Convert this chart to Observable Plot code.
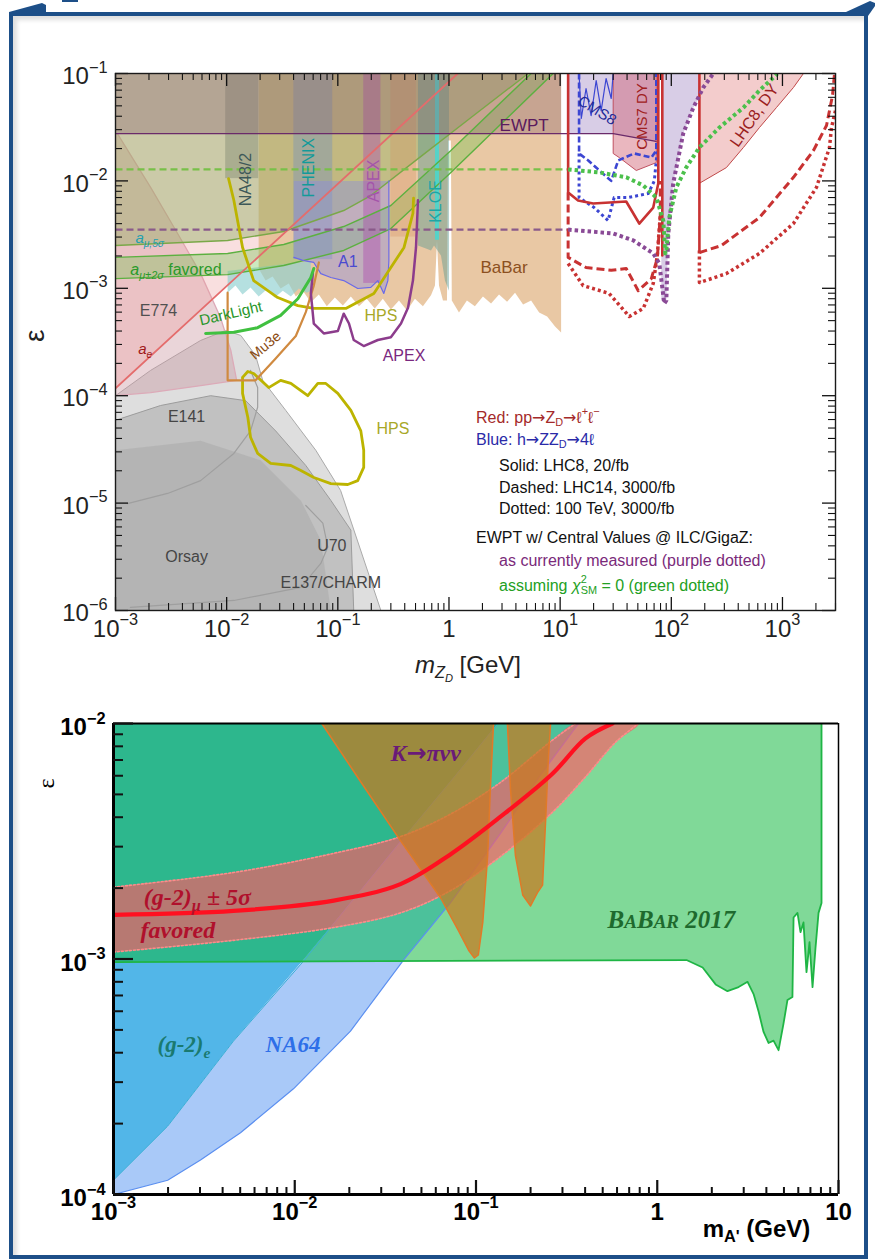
<!DOCTYPE html>
<html><head><meta charset="utf-8">
<script src="https://cdn.jsdelivr.net/npm/d3@7"></script>
<script src="https://cdn.jsdelivr.net/npm/@observablehq/plot@0.6"></script>
<style>
html,body{margin:0;padding:0;background:#fff;}
#page{position:relative;width:875px;height:1260px;overflow:hidden;background:#fff;}
#frame{position:absolute;left:9px;top:12px;width:851px;height:1239px;border:4px solid #1d4f88;box-shadow:inset 4px 4px 4px rgba(0,0,0,0.13);}
#page svg.pl{position:absolute;left:0;}
</style></head><body>
<div id="page">
<div id="frame"></div>
<svg width="875" height="1260" style="position:absolute;left:0;top:0">
<polygon points="9,16 9,12 42,3 46,5 46,13" fill="#1d4f88"/>
<polygon points="846,12 870,1 875,3 875,6 868,16" fill="#1d4f88"/>
<rect x="62" y="0" width="16" height="2" fill="#1d4f88"/>
</svg>
</div>
<script>
// ================= TOP PANEL DATA  [mass (GeV), epsilon] =================
const topXMajor = [1e-3,1e-2,1e-1,1,10,100,1000];
const topXLabels = ["10^{−3}","10^{−2}","10^{−1}","1","10^{1}","10^{2}","10^{3}"];
const topYMajor = [1e-6,1e-5,1e-4,1e-3,1e-2,1e-1];
const topYLabels = ["10^{−6}","10^{−5}","10^{−4}","10^{−3}","10^{−2}","10^{−1}"];

const grayOuter = [[1e-3,1e-4],[2.07e-3,1.72e-4],[5.83e-3,3.27e-4],[9.8e-3,4.05e-4],[1.34e-2,3.64e-4],[1.82e-2,2.37e-4],[2.11e-2,1.39e-4],[3.4e-2,7.3e-5],[6.34e-2,3.1e-5],[0.106,1.31e-5],[0.244,1e-6],[1e-3,1e-6]];
const grayMid = [[1e-3,5.9e-5],[2.54e-3,8.1e-5],[7.18e-3,1.0e-4],[1.48e-2,9.0e-5],[2.76e-2,4.7e-5],[5.15e-2,2.24e-5],[8.65e-2,1.06e-5],[0.131,5.6e-6],[0.139,1e-6],[1e-3,1e-6]];
const grayInner = [[1e-3,3.1e-5],[5.83e-3,3.8e-5],[2.02e-2,2.5e-5],[4.65e-2,1.06e-5],[7.03e-2,4.5e-6],[8.65e-2,1e-6],[1e-3,1e-6]];
const e141Edge = [[1.28e-3,9.9e-6],[2.94e-3,1.23e-5],[5.83e-3,1.62e-5],[1.16e-2,2.9e-5],[1.64e-2,4.7e-5],[1.9e-2,7.8e-5],[1.9e-2,1.19e-4],[1.64e-2,1.72e-4]];
const u70Edge = [[1.36e-3,1.07e-6],[1.16e-2,1.24e-6],[4.65e-2,1.64e-6],[7.03e-2,2.74e-6],[8.13e-2,3.9e-6],[7.33e-2,6.5e-6],[5.15e-2,9.5e-6]];
const e774 = [[1e-3,2.76e-2],[1.04e-3,2.76e-2],[2.07e-3,8.7e-3],[3.62e-3,3.24e-3],[5.83e-3,1.37e-3],[8.8e-3,5.35e-4],[1.09e-2,2.64e-4],[1.23e-2,1.39e-4],[5.83e-3,1.24e-4],[2.07e-3,1.07e-4],[1e-3,1e-4]];
const aeEdge = [[1e-3,1.17e-4],[1.2,0.1]];
const amu5 = [[1e-3,2.5e-3],[1.02e-2,2.79e-3],[3.26e-2,3.38e-3],[0.113,5.3e-3],[0.198,7.31e-3],[0.56,1.69e-2],[1.58,3.89e-2],[5.15,0.1]];
const amuUp = [[1e-3,1.94e-3],[1.02e-2,2.11e-3],[3.26e-2,2.56e-3],[0.113,3.76e-3],[0.30,5.9e-3],[1.04,1.92e-2],[5.48,0.1]];
const amuLo = [[1e-3,1.23e-3],[1.02e-2,1.34e-3],[3.26e-2,1.63e-3],[0.113,2.25e-3],[0.30,3.6e-3],[1.04,1.2e-2],[8.65,0.1]];
const babarLo = [[1.94e-2,1.53e-3],[2.24e-2,1.18e-3],[2.59e-2,1.29e-3],[3.06e-2,9.96e-4],[3.62e-2,1.11e-3],[4.19e-2,8.4e-4],[4.84e-2,9.5e-4],[5.72e-2,7.4e-4],[6.75e-2,8.75e-4],[7.96e-2,6.8e-4],[9.4e-2,8.2e-4],[0.111,6.9e-4],[0.131,8.4e-4],[0.155,6.8e-4],[0.182,8.0e-4],[0.215,6.5e-4],[0.254,8.0e-4],[0.30,6.35e-4],[0.355,7.7e-4],[0.419,6.2e-4],[0.494,8.0e-4],[0.583,6.8e-4],[0.689,8.6e-4],[0.748,1.06e-3],[0.78,2.79e-3],[0.813,1.06e-3],[0.883,7.7e-4],[0.96,7.7e-4],[0.98,2.38e-2],[1.04,2.38e-2],[1.06,7.7e-4],[1.23,5.96e-4],[1.45,7.7e-4],[1.71,6.8e-4],[2.02,8.4e-4],[2.39,7.2e-4],[2.82,8.75e-4],[3.33,7.5e-4],[3.93,9.1e-4],[4.64,7.06e-4],[5.48,7.7e-4],[6.47,5.96e-4],[7.64,5.46e-4],[9.0,4.41e-4],[10.2,3.87e-4]];
const kloeLow = [[1.02e-2,9.1e-4],[1.2e-2,1.06e-3],[1.39e-2,8.75e-4],[1.64e-2,1.02e-3],[1.94e-2,8.4e-4],[2.29e-2,9.75e-4],[2.7e-2,8.2e-4],[3.2e-2,9.5e-4],[3.78e-2,8.4e-4],[4.46e-2,9.96e-4],[5.26e-2,9.1e-4],[5.72e-2,9.5e-4],[5.72e-2,1.8e-3],[1.02e-2,1.45e-3]];
const na48Col = [[9.8e-3,1.94e-2,1.05e-2]];
const phenixCol = [[4.02e-2,9.0e-2,1.85e-3]];
const apexCol = [[0.171,0.244,1.11e-3]];
const orangeCol = [[0.30,0.51,3.0e-3]];
const a1Lo = [[4.02e-2,1.94e-3],[4.94e-2,1.81e-3],[6.08e-2,1.74e-3],[7.03e-2,1.37e-3],[8.65e-2,1.26e-3],[0.113,1.18e-3],[0.151,9.96e-4],[0.198,1.02e-3],[0.229,1.18e-3],[0.259,8.95e-4],[0.282,1.18e-3],[0.288,1.81e-3],[0.288,1.0e-2]];
const kloeLo = [[0.526,2.5e-3],[0.621,2.35e-3],[0.689,2.25e-3],[0.733,2.5e-3],[0.847,2.02e-3],[0.92,1.18e-3],[1.0,9.5e-4]];
const kloeOmega = [0.78];
const ewptRegion = [[1e-3,2.76e-2],[10.2,2.76e-2],[10.2,0.1],[1e-3,0.1]];
const ewptLine = [[1e-3,2.76e-2],[30,2.76e-2],[73,2.33e-2]];
const cms8 = [[11.8,0.1],[11.8,2.76e-2],[30,2.76e-2],[73,2.33e-2],[73,0.1]];
const cms7 = [[30,0.1],[30,1.8e-2],[34,1.65e-2],[48.4,1.25e-2],[73.3,1.48e-2],[73.3,0.1]];
const zLav = [[81.3,0.1],[81.3,7.7e-4],[90.2,7.7e-4],[94,3.24e-3],[104,9.5e-3],[128,2.76e-2],[158,4.82e-2],[179,6e-2],[179,0.1]];
const lhc8dy = [[179,0.1],[179,9.5e-3],[313,1.33e-2],[446,2.05e-2],[621,3.14e-2],[883,4.82e-2],[1256,7.41e-2],[1545,0.1]];

const redSolidL = [[11.8,0.1],[11.8,7.8e-3],[14.5,6.57e-3],[19.8,6.16e-3],[39.3,6.43e-3],[51.5,4.01e-3],[68.8,5.65e-3],[76.4,9.5e-3],[76.4,0.1]];
const redSolidZ = [[83,0.1],[83,2.02e-3]];
const redSolidR = [[179,0.1],[179,2.25e-3]];
const redDashL = [[11.8,7.8e-3],[11.8,1.94e-3],[17.1,1.56e-3],[28.8,1.47e-3],[39.3,1.53e-3],[50.4,9.5e-4],[66.1,1.23e-3],[74.8,1.9e-3],[79.6,4.76e-3],[79.6,1e-2]];
const redDotL = [[11.8,1.7e-3],[16.1,1.06e-3],[27.6,8.95e-4],[41.9,5.46e-4],[56,6.5e-4],[68.8,1.11e-3],[74.8,2.02e-3],[79.6,4.76e-3]];
const redDashR = [[179,2.15e-3],[282,2.5e-3],[621,4.56e-3],[1256,1.08e-2],[1901,1.92e-2],[2490,3.28e-2],[2820,6.24e-2],[2940,0.1]];
const redDotR = [[179,2.25e-3],[179,1.13e-3],[313,1.37e-3],[621,2.11e-3],[1256,4.01e-3],[2023,8.7e-3],[2650,2.05e-2],[2760,3.14e-2],[3000,4.5e-2]];
const blueSolid = [[14.8,0.1],[15.5,3.81e-2],[17.1,7.25e-2],[19,4.06e-2],[21.1,8.6e-2],[23.4,4.52e-2],[25.9,8.98e-2],[28.8,5.85e-2],[30,0.1]];
const blueDash = [[14.8,0.1],[14.8,1.8e-2],[17.9,1.55e-2],[28.8,1.0e-2],[33.3,1.55e-2],[46.4,1.8e-2],[66.1,1.65e-2],[73.3,1.92e-2],[73.3,0.1]];
const blueDot = [[14.8,1.8e-2],[14.8,7.0e-3],[20.2,5.65e-3],[27,4.28e-3],[30.6,7.0e-3],[41,7.0e-3],[62.1,7.63e-3],[70.3,1e-2],[74.8,1.92e-2]];
const purpleH = [[1e-3,3.52e-3],[11.8,3.52e-3]];
const purpleDot = [[11.8,3.52e-3],[30,3.24e-3],[45.5,2.79e-3],[68.8,2.11e-3],[78,1.7e-3],[86.5,7.2e-4],[90.2,7.7e-4],[94,3.24e-3],[104,9.5e-3],[128,2.76e-2],[158,4.82e-2],[194,7.41e-2],[239,0.1]];
const greenH = [[1e-3,1.28e-2],[11.8,1.28e-2]];
const greenDot = [[11.8,1.28e-2],[22.4,1.2e-2],[39.3,1.08e-2],[56,9.06e-3],[73.3,7.0e-3],[84.7,4.28e-3],[88.3,2.11e-3],[90.2,2.25e-3],[95.9,4.56e-3],[111,8.7e-3],[136,1.33e-2],[179,2.05e-2],[271,3.14e-2],[446,4.82e-2],[621,6.95e-2],[830,9.18e-2],[902,0.1]];
const hps1 = [[1.04e-2,1.05e-2],[1.16e-2,6.6e-3],[1.39e-2,2.4e-3],[1.75e-2,1.18e-3],[2.88e-2,8.2e-4],[4.37e-2,6.9e-4],[6.08e-2,6.5e-4],[0.118,6.5e-4],[0.211,8.95e-4],[0.30,1.56e-3],[0.394,2.4e-3],[0.474,5.0e-3],[0.48,6.9e-3]];
const hps2 = [[1.39e-2,1.48e-4],[1.55e-2,1.68e-4],[1.75e-2,1.61e-4],[2.39e-2,1.19e-4],[3.06e-2,1.39e-4],[3.78e-2,1.3e-4],[5.37e-2,1.0e-4],[6.61e-2,1.3e-4],[7.8e-2,1.3e-4],[0.1,1.05e-4],[0.131,7.3e-5],[0.161,4.7e-5],[0.171,3.1e-5],[0.171,2.15e-5],[0.151,1.62e-5],[0.123,1.49e-5],[8.65e-2,1.52e-5],[6.08e-2,1.73e-5],[4.65e-2,2.01e-5],[3.78e-2,2.24e-5],[2.49e-2,2.34e-5],[1.9e-2,2.9e-5],[1.64e-2,4.1e-5],[1.55e-2,6.3e-5],[1.39e-2,1.05e-4],[1.39e-2,1.48e-4]];
const mu3e = [[1.02e-2,9.1e-4],[1.02e-2,1.39e-4],[1.82e-2,1.39e-4],[2.76e-2,2.22e-4],[4.19e-2,3.6e-4],[5.15e-2,6.0e-4],[6.08e-2,1.06e-3],[6.75e-2,1.74e-3]];
const apexLine = [[5.96e-2,1.37e-3],[5.72e-2,8.95e-4],[6.08e-2,4.7e-4],[7.48e-2,3.8e-4],[0.1,4.0e-4],[0.113,5.8e-4],[0.126,4.7e-4],[0.139,3.3e-4],[0.171,2.9e-4],[0.229,3.3e-4],[0.30,3.5e-4],[0.37,4.7e-4],[0.428,6.6e-4],[0.474,1.18e-3],[0.505,2.4e-3],[0.526,6.6e-3]];
const darkLight = [[6.47e-3,3.8e-4],[1.16e-2,3.9e-4],[1.9e-2,4.3e-4],[3.06e-2,5.6e-4],[4.37e-2,8.0e-4],[5.72e-2,1.26e-3],[6.08e-2,1.53e-3]];

const topLabels = [
 {t:"NA48/2", x:1.48e-2, y:1.03e-2, c:"#3d5858", s:16, r:-90},
 {t:"PHENIX", x:5.48e-2, y:1.33e-2, c:"#139a9a", s:16, r:-90},
 {t:"APEX", x:0.211, y:1.0e-2, c:"#a454aa", s:16, r:-90},
 {t:"KLOE", x:0.763, y:6.43e-3, c:"#1fa5a5", s:16, r:-90},
 {t:"EWPT", x:4.74, y:3.28e-2, c:"#5a1a5e", s:17, r:0},
 {t:"CMS7 DY", x:54.8, y:3.98e-2, c:"#a02020", s:15, r:-90},
 {t:"CMS8", x:21.5, y:4.52e-2, c:"#1e2a9a", s:15, r:32},
 {t:"LHC8, DY", x:560, y:4.06e-2, c:"#9a2020", s:16, r:-55},
 {t:"DarkLight", x:1.09e-2, y:5.82e-4, c:"#28962a", s:15, r:-13},
 {t:"Mu3e", x:2.24e-2, y:2.93e-4, c:"#8a4a10", s:14, r:-40},
 {t:"E774", x:2.44e-3, y:6.21e-4, c:"#505050", s:16, r:0},
 {t:"A1", x:0.123, y:1.78e-3, c:"#4a4ad0", s:16, r:0},
 {t:"HPS", x:0.244, y:5.58e-4, c:"#a8a828", s:16, r:0},
 {t:"BaBar", x:3.13, y:1.56e-3, c:"#8c5020", s:17, r:0},
 {t:"APEX", x:0.394, y:2.37e-4, c:"#7a2880", s:16, r:0},
 {t:"HPS", x:0.313, y:4.95e-5, c:"#a8a828", s:16, r:0},
 {t:"E141", x:4.36e-3, y:6.4e-5, c:"#454545", s:16, r:0},
 {t:"Orsay", x:4.36e-3, y:3.18e-6, c:"#454545", s:16, r:0},
 {t:"U70", x:8.83e-2, y:4.03e-6, c:"#454545", s:16, r:0},
 {t:"E137/CHARM", x:8.65e-2, y:1.82e-6, c:"#454545", s:16, r:0}
];
const topStartLabels = [
 {t:"*{a_{μ,5σ}}", x:1.51e-3, y:2.91e-3, c:"#1fa0b0", s:15},
 {t:"*{a_{μ±2σ}} favored", x:1.36e-3, y:1.47e-3, c:"#2a9a2a", s:16},
 {t:"*{a_{e}}", x:1.6e-3, y:2.69e-4, c:"#a01818", s:15}
];
const legendLines = [
 {t:"Red: pp#{→}Z_{D}#{→}ℓ^{+}ℓ^{−}", x:1.75, y:6.27e-5, c:"#a42a2a"},
 {t:"Blue: h#{→}ZZ_{D}#{→}4ℓ", x:1.75, y:3.91e-5, c:"#2a2aa8"},
 {t:"Solid: LHC8, 20/fb", x:2.82, y:2.24e-5, c:"#111"},
 {t:"Dashed: LHC14, 3000/fb", x:2.82, y:1.40e-5, c:"#111"},
 {t:"Dotted: 100 TeV, 3000/fb", x:2.82, y:8.9e-6, c:"#111"},
 {t:"EWPT w/ Central Values @ ILC/GigaZ:", x:1.75, y:4.78e-6, c:"#111"},
 {t:"as currently measured (purple dotted)", x:2.82, y:2.92e-6, c:"#7a2a7a"},
 {t:"assuming *{χ}^{2}|_{SM} = 0 (green dotted)", x:2.82, y:1.71e-6, c:"#23a023"}
];

// ================= BOTTOM PANEL DATA =================
const botXMajor = [1e-3,1e-2,1e-1,1,10];
const botXLabels = ["10^{−3}","10^{−2}","10^{−1}","1","10"];
const botYMajor = [1e-4,1e-3,1e-2];
const botYLabels = ["10^{−4}","10^{−3}","10^{−2}"];
const babar17 = [[1e-3,9.7e-4],[1.45,9.9e-4],[1.78,9.2e-4],[2.10,7.8e-4],[2.44,7.3e-4],[2.81,7.6e-4],[3.15,8.0e-4],[3.40,7.1e-4],[3.62,6.0e-4],[3.86,4.9e-4],[4.11,4.4e-4],[4.38,4.5e-4],[4.67,4.1e-4],[4.97,5.3e-4],[5.23,6.7e-4],[5.57,6.9e-4],[5.65,1.5e-3],[5.94,1.57e-3],[6.17,1.3e-3],[6.41,1.43e-3],[6.66,8.8e-4],[6.92,1.18e-3],[7.19,7.6e-4],[7.47,1.12e-3],[7.76,1.57e-3],[8.06,1.73e-3],[8.06,1e-2]];
const geLine = [[1e-3,1.15e-4],[1.99e-3,1.95e-4],[4.59e-3,4.48e-4],[1.08e-2,9.5e-4],[2.03e-2,1.73e-3],[3.83e-2,3.15e-3],[7.24e-2,5.67e-3],[0.132,1e-2]];
const na64Line = [[1e-3,1e-4],[1.99e-3,1.15e-4],[3.02e-3,1.4e-4],[5.02e-3,1.83e-4],[9.84e-3,2.81e-4],[2.03e-2,4.94e-4],[3.98e-2,9.9e-4],[7.22e-2,1.73e-3],[0.136,3.4e-3],[0.227,6.05e-3],[0.368,1e-2]];
const geAbove = [[1e-3,1e-2],[0.132,1e-2],[7.24e-2,5.67e-3],[3.83e-2,3.15e-3],[2.03e-2,1.73e-3],[1.09e-2,9.7e-4],[1e-3,9.7e-4]];
const geBelow = [[1e-3,9.7e-4],[1.09e-2,9.7e-4],[4.59e-3,4.48e-4],[1.99e-3,1.95e-4],[1e-3,1.15e-4]];
const naAbove = [[0.132,1e-2],[0.368,1e-2],[0.227,6.05e-3],[0.136,3.4e-3],[7.22e-2,1.73e-3],[3.9e-2,9.7e-4],[1.09e-2,9.7e-4],[2.03e-2,1.73e-3],[3.83e-2,3.15e-3],[7.24e-2,5.67e-3]];
const naBelow = [[1e-3,1e-4],[1.99e-3,1.15e-4],[3.02e-3,1.4e-4],[5.02e-3,1.83e-4],[9.84e-3,2.81e-4],[2.03e-2,4.94e-4],[3.9e-2,9.7e-4],[1.09e-2,9.7e-4],[4.59e-3,4.48e-4],[1.99e-3,1.95e-4],[1e-3,1.15e-4]];
const kpi1 = [[1.41e-2,1e-2],[2.31e-2,5.66e-3],[3.83e-2,3.18e-3],[6.37e-2,1.82e-3],[8.0e-2,1.32e-3],[9.1e-2,1.09e-3],[9.8e-2,1.01e-3],[0.103,1.04e-3],[0.109,1.43e-3],[0.116,2.75e-3],[0.120,5.25e-3],[0.125,1e-2]];
const kpi2 = [[0.149,1e-2],[0.155,5.25e-3],[0.165,2.75e-3],[0.181,1.87e-3],[0.20,1.68e-3],[0.218,1.91e-3],[0.233,2.06e-3],[0.242,3.82e-3],[0.251,7.21e-3],[0.258,1e-2]];
const bandUpper = [[1e-3,2.02e-3],[4.59e-3,2.33e-3],[1.64e-2,2.81e-3],[3.83e-2,3.31e-3],[7.22e-2,4.12e-3],[0.136,5.61e-3],[0.264,8.5e-3],[0.354,1e-2]];
const bandLower = [[1e-3,1.07e-3],[4.59e-3,1.2e-3],[1.64e-2,1.36e-3],[3.83e-2,1.57e-3],[7.22e-2,1.95e-3],[0.136,2.72e-3],[0.264,4.2e-3],[0.402,5.94e-3],[0.589,8.33e-3],[0.789,1e-2]];
const bandCenter = [[1e-3,1.54e-3],[4.59e-3,1.6e-3],[1.64e-2,1.77e-3],[3.83e-2,2.08e-3],[7.22e-2,2.78e-3],[0.136,4.01e-3],[0.264,6.12e-3],[0.402,8.65e-3],[0.566,1e-2]];
const botLabels = [
 {t:"K#{→}πνν", x:3.37e-2, y:7.5e-3, c:"#6a1a78", s:24},
 {t:"(g-2)_{μ} ± 5σ", x:1.47e-3, y:1.82e-3, c:"#b0102c", s:24},
 {t:"favored", x:1.41e-3, y:1.32e-3, c:"#b0102c", s:24},
 {t:"B~{A}B~{AR} 2017", x:0.532, y:1.46e-3, c:"#1e6a2e", s:25},
 {t:"(g-2)_{e}", x:1.75e-3, y:4.31e-4, c:"#1a7a70", s:23},
 {t:"NA64", x:6.9e-3, y:4.31e-4, c:"#2e6fe8", s:23}
];

// ================= helpers =================
const SANS = "'Liberation Sans', Arial, Helvetica, sans-serif";
const SERIF = "'Liberation Serif', 'Times New Roman', Times, serif";
const minorsOf = (decades, last) => decades.flatMap(d => [2,3,4,5,6,7,8,9].map(k => k * d)).filter(v => v <= last * 1.0001);
const P = (data, o) => Plot.line(data, {x: d => d[0], y: d => d[1], clip: true, ...o});
const D = (data, color, w, dash) => P(data, {stroke: color, strokeWidth: w, strokeDasharray: dash, strokeLinecap: "butt"});
const region = (data, fill, fo, stroke = "none", sw = 1) => P(data, {fill, fillOpacity: fo, stroke, strokeWidth: sw});
const col = (data, fill, fo) => Plot.rect(data, {x1: d => d[0], x2: d => d[1], y1: d => d[2], y2: 0.1, fill, fillOpacity: fo, clip: true});
const ticksX = (vals, len, H, side, sw) => Plot.tickX(vals, {x: d => d, stroke: "#111", strokeWidth: sw, ...(side === "bottom" ? {insetTop: H - len} : {insetBottom: H - len})});
const ticksY = (vals, len, W, side, sw) => Plot.tickY(vals, {y: d => d, stroke: "#111", strokeWidth: sw, ...(side === "left" ? {insetRight: W - len} : {insetLeft: W - len})});

// ================= TOP PLOT =================
const TW = 875 - 115 - 40, TH = 680 - 73 - 70;
const topXMinor = minorsOf([1e-3,1e-2,1e-1,1,10,100,1000], 3e3);
const topYMinor = minorsOf([1e-6,1e-5,1e-4,1e-3,1e-2], 0.1);
const topPlot = Plot.plot({
  width: 875, height: 680, marginLeft: 115, marginRight: 40, marginTop: 73, marginBottom: 70,
  x: {type: "log", domain: [1e-3, 3e3], axis: null},
  y: {type: "log", domain: [1e-6, 1e-1], axis: null},
  color: {type: "identity"},
  style: {fontFamily: SANS, background: "transparent", overflow: "visible"},
  marks: [
    region(grayOuter, "#cdcdcd", 0.65, "#aaaaaa", 1),
    region(grayMid, "#a9a9a9", 0.55, "#9c9c9c", 1),
    region(grayInner, "#999999", 0.3),
    P(e141Edge, {stroke: "#9f9f9f", strokeWidth: 1.2}),
    P(u70Edge, {stroke: "#9f9f9f", strokeWidth: 1.2}),
    region(e774, "#c9909a", 0.38, "#dcaab8", 1.3),
    region([...aeEdge, [1e-3, 0.1]], "#eb9a9a", 0.32),
    region([...babarLo, [10.2, 0.1], [1.94e-2, 0.1]], "#e2b686", 0.75),
    region(kloeLow, "#8ed0d0", 0.65),
    region([...amu5, [1e-3, 0.1]], "#8cad5e", 0.42),
    region([...amuUp, ...amuLo.slice().reverse()], "#6ec24a", 0.35),
    col(na48Col, "#5f6a58", 0.3),
    col(phenixCol, "#7d94b5", 0.45),
    region([...a1Lo, [4.02e-2, 1.0e-2]], "#8a8ae0", 0.42),
    col(apexCol, "#b050b0", 0.45),
    col(orangeCol, "#d89060", 0.3),
    region([...kloeLo, [1.0, 0.1], [0.526, 0.1]], "#5a9a90", 0.45),
    Plot.ruleX(kloeOmega, {x: d => d, y1: 2.8e-3, y2: 0.1, stroke: "#48d8d0", strokeWidth: 4, strokeOpacity: 0.85, clip: true}),
    region(ewptRegion, "#8a6070", 0.35),
    region(cms8, "#a890c8", 0.45),
    region(cms7, "#d06070", 0.45, "#c05060", 1),
    region(zLav, "#a890c8", 0.45),
    region(lhc8dy, "#e07878", 0.38, "#c04848", 1),
    // lines
    P(amu5, {stroke: "#7aa848", strokeWidth: 1.4}),
    P(amuUp, {stroke: "#5cb040", strokeWidth: 1.4}),
    P(amuLo, {stroke: "#5cb040", strokeWidth: 1.4}),
    P(aeEdge, {stroke: "#e46c6c", strokeWidth: 1.8}),
    P(a1Lo, {stroke: "#6a6ae8", strokeWidth: 1.2}),
    P(ewptLine, {stroke: "#6a2a6a", strokeWidth: 1.3}),
    D(greenH, "#78c048", 2.2, "7,4"),
    D(purpleH, "#8a5a8a", 2.2, "7,4"),
    P(hps1, {stroke: "#bcb400", strokeWidth: 2.8}),
    P(hps2, {stroke: "#bcb400", strokeWidth: 2.8}),
    P(mu3e, {stroke: "#d08a40", strokeWidth: 2.2}),
    P(apexLine, {stroke: "#8c3c8c", strokeWidth: 2.5}),
    P(darkLight, {stroke: "#40c040", strokeWidth: 3}),
    P(blueSolid, {stroke: "#3c46d2", strokeWidth: 1.2}),
    D(blueDash, "#3c46d2", 2.6, "6,3"),
    D(blueDot, "#3c46d2", 3, "3,3"),
    P(redSolidL, {stroke: "#c83232", strokeWidth: 2.6}),
    P(redSolidZ, {stroke: "#c83232", strokeWidth: 2.6}),
    P(redSolidR, {stroke: "#c83232", strokeWidth: 2.6}),
    D(redDashL, "#c83232", 3, "8,4"),
    D(redDotL, "#c83232", 3.5, "3,3"),
    D(redDashR, "#c83232", 3, "8,4"),
    D(redDotR, "#c83232", 3.5, "3,3"),
    D(purpleDot, "#8a4a96", 4, "3.5,3"),
    D(greenDot, "#4cc04c", 4, "3.5,3"),
    // labels
    Plot.text(topLabels, {x: d => d.x, y: d => d.y, text: d => d.t, fill: d => d.c, fontSize: d => d.s, rotate: d => d.r}),
    Plot.text(topStartLabels, {x: d => d.x, y: d => d.y, text: d => d.t, fill: d => d.c, fontSize: d => d.s, textAnchor: "start"}),
    Plot.text(legendLines, {x: d => d.x, y: d => d.y, text: d => d.t, fill: d => d.c, fontSize: 16, textAnchor: "start"}),
    // ticks + frame
    ticksX(topXMajor, 13, TH, "bottom", 1.3), ticksX(topXMajor, 13, TH, "top", 1.3),
    ticksX(topXMinor, 7, TH, "bottom", 1.1), ticksX(topXMinor, 7, TH, "top", 1.1),
    ticksY(topYMajor, 13, TW, "left", 1.3), ticksY(topYMajor, 13, TW, "right", 1.3),
    ticksY(topYMinor, 7, TW, "left", 1.1), ticksY(topYMinor, 7, TW, "right", 1.1),
    Plot.frame({stroke: "#1a1a1a", strokeWidth: 1.4}),
    Plot.text(topXMajor, {x: d => d, text: (d, i) => topXLabels[i], frameAnchor: "bottom", dy: 26, fontSize: 24, fill: "#222"}),
    Plot.text(topYMajor, {y: d => d, text: (d, i) => topYLabels[i], frameAnchor: "left", textAnchor: "end", dx: -8, dy: 3, fontSize: 24, fill: "#222"}),
    Plot.text(["*{m}_{*{Z_{D}}} [GeV]"], {x: 0.494, text: d => d, frameAnchor: "bottom", textAnchor: "start", dy: 62, fontSize: 24, fill: "#222"}),
    Plot.text(["ε"], {text: d => d, frameAnchor: "left", dx: -80, rotate: -90, fontSize: 28, fill: "#222"})
  ]
});

// ================= BOTTOM PLOT =================
const BW = 875 - 113 - 37, BH = 580 - 43 - 66;
const botXMinor = minorsOf([1e-3,1e-2,1e-1,1], 10);
const botYMinor = minorsOf([1e-4,1e-3], 1e-2);
const botPlot = Plot.plot({
  width: 875, height: 580, marginLeft: 113, marginRight: 37, marginTop: 43, marginBottom: 66,
  x: {type: "log", domain: [1e-3, 10], axis: null},
  y: {type: "log", domain: [1e-4, 1e-2], axis: null},
  color: {type: "identity"},
  style: {fontFamily: SANS, background: "transparent", overflow: "visible"},
  marks: [
    region([...babar17, [1e-3, 1e-2]], "#80d998", 1),
    region(geAbove, "#2db78d", 1),
    region(geBelow, "#52b6e8", 1),
    region(naAbove, "#4cc19b", 1),
    region(naBelow, "#a9c9f8", 1),
    P(geLine, {stroke: "#3aaed6", strokeWidth: 1}),
    P(na64Line, {stroke: "#5b8ff0", strokeWidth: 1.2}),
    P([...bandUpper, ...bandLower.slice().reverse()], {fill: "#ff5a64", fillOpacity: 0.66, stroke: "none", curve: "catmull-rom"}),
    P(bandUpper, {stroke: "#ff8a8a", strokeWidth: 1.6, strokeDasharray: "2,2", curve: "catmull-rom"}),
    P(bandLower, {stroke: "#ff8a8a", strokeWidth: 1.6, strokeDasharray: "2,2", curve: "catmull-rom"}),
    region(kpi1, "#c87820", 0.72, "#e07a28", 1.5),
    region(kpi2, "#c87820", 0.72, "#e07a28", 1.5),
    P(bandCenter, {stroke: "#ff1020", strokeWidth: 4.2, curve: "catmull-rom"}),
    P(babar17, {stroke: "#1fb545", strokeWidth: 1.8}),
    Plot.text(botLabels, {x: d => d.x, y: d => d.y, text: d => d.t, fill: d => d.c, fontSize: d => d.s, textAnchor: "start", fontFamily: SERIF, fontWeight: "bold", fontStyle: "italic"}),
    Plot.ruleX([1e-3], {stroke: "#000", strokeWidth: 3}),
    Plot.ruleY([1e-4], {stroke: "#000", strokeWidth: 3}),
    Plot.ruleY([1e-2], {stroke: "#000", strokeWidth: 2}),
    Plot.ruleX([10], {stroke: "#000", strokeWidth: 1.5}),
    ticksY(botYMajor, 20, BW, "left", 2.2), ticksY(botYMinor, 10, BW, "left", 2),
    ticksX(botXMajor, 14, BH, "bottom", 2.2), ticksX(botXMinor, 7, BH, "bottom", 2),
    Plot.text(botXMajor, {x: d => d, text: (d, i) => botXLabels[i], frameAnchor: "bottom", dy: 25, fontSize: 24, fontWeight: "bold", fill: "#000"}),
    Plot.text(botYMajor, {y: d => d, text: (d, i) => botYLabels[i], frameAnchor: "left", textAnchor: "end", dx: -8, dy: 4, fontSize: 24, fontWeight: "bold", fill: "#000"}),
    Plot.text(["m_{A'} (GeV)"], {x: 1.78, text: d => d, frameAnchor: "bottom", textAnchor: "start", dy: 42, fontSize: 24, fontWeight: "bold", fill: "#000"}),
    Plot.text(["ε"], {y: 5.3e-3, text: d => d, frameAnchor: "left", dx: -67, rotate: -90, fontSize: 24, fontFamily: SERIF, fill: "#000"})
  ]
});

const page = document.getElementById("page");
topPlot.classList.add("pl"); topPlot.style.top = "0px";
botPlot.classList.add("pl"); botPlot.style.top = "680px";
page.appendChild(topPlot);
page.appendChild(botPlot);

// ---- rich text: ^{sup} _{sub} ~{small caps} *{italic} #{arrow font} | (stack under previous) ----
function rich(svg) {
  svg.querySelectorAll("text").forEach(t => {
    const s = t.textContent;
    if (!/[\^_~*#]\{/.test(s)) return;
    const base = parseFloat(getComputedStyle(t).fontSize) || 16;
    const segs = [], stack = [{shift: 0, scale: 1, italic: false, alt: false}];
    let buf = "", back = false, i = 0;
    const flush = () => { if (buf) { segs.push({text: buf, back, ...stack[stack.length - 1]}); buf = ""; back = false; } };
    while (i < s.length) {
      const two = s.slice(i, i + 2), top = stack[stack.length - 1];
      if (two === "^{") { flush(); stack.push({...top, shift: top.shift + base * top.scale * 0.48, scale: top.scale * 0.68}); i += 2; }
      else if (two === "_{") { flush(); stack.push({...top, shift: top.shift - base * top.scale * 0.24, scale: top.scale * 0.68}); i += 2; }
      else if (two === "~{") { flush(); stack.push({...top, scale: top.scale * 0.76}); i += 2; }
      else if (two === "*{") { flush(); stack.push({...top, italic: true}); i += 2; }
      else if (two === "#{") { flush(); stack.push({...top, alt: true}); i += 2; }
      else if (s[i] === "}" && stack.length > 1) { flush(); stack.pop(); i++; }
      else if (s[i] === "|") { flush(); back = true; i++; }
      else { buf += s[i]; i++; }
    }
    flush();
    t.textContent = "";
    let prev = 0, last = null;
    for (const g of segs) {
      const ts = document.createElementNS("http://www.w3.org/2000/svg", "tspan");
      ts.setAttribute("dy", (prev - g.shift).toFixed(2));
      ts.setAttribute("font-size", (base * g.scale).toFixed(2));
      if (g.italic) ts.setAttribute("font-style", "italic");
      if (g.alt) ts.setAttribute("font-family", "'DejaVu Sans', sans-serif");
      if (g.back && last) ts.setAttribute("dx", (-last.getComputedTextLength()).toFixed(2));
      ts.textContent = g.text;
      t.appendChild(ts);
      prev = g.shift; last = ts;
    }
  });
}
rich(topPlot);
rich(botPlot);
</script>
</body></html>
